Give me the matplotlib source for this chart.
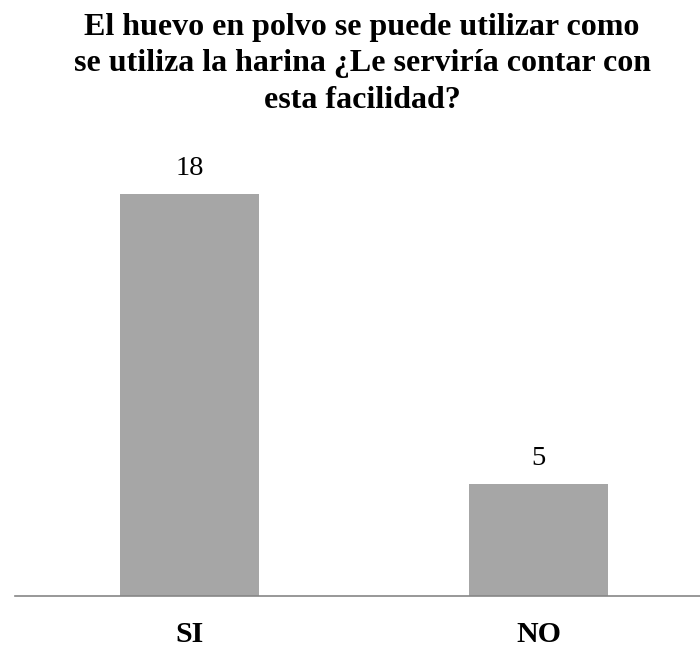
import matplotlib.pyplot as plt

categories = ["SI", "NO"]
values = [18, 5]
title_lines = [
    "El huevo en polvo se puede utilizar como",
    "se utiliza la harina ¿Le serviría contar con",
    "esta facilidad?",
]

plt.rcParams['font.family'] = ['Liberation Serif', 'DejaVu Serif']

fig = plt.figure(figsize=(7.0, 6.47), dpi=100)
ax = fig.add_axes([15 / 700, 1 - 596 / 647, 685 / 700, (596 - 149.4) / 647])

x = range(len(categories))
ax.bar(x, values, width=0.4, color="#A6A6A6")
for i, v in enumerate(values):
    ax.annotate(str(v), (i, v), xytext=(0, 14), textcoords="offset points",
                ha="center", va="baseline", fontsize=20.5)

ax.set_xlim(-0.5, 1.5 - 13 / 349)
ax.set_ylim(0, 20)
ax.set_xticks(list(x))
ax.set_xticklabels(categories, fontsize=21.5, fontweight="bold")
for lab in ax.get_xticklabels():
    lab.set_va("baseline")
ax.tick_params(axis="x", length=0, pad=33)
ax.set_yticks([])
for s in ["top", "right", "left"]:
    ax.spines[s].set_visible(False)
ax.spines["bottom"].set_color("#868686")
ax.spines["bottom"].set_linewidth(1.2)

# title drawn line by line
for k, line in enumerate(title_lines):
    fig.text(362 / 700, 1 - (35 + 36.5 * k) / 647, line, ha="center", va="baseline",
             fontsize=23, fontweight="bold")

fig.savefig("out.png")
